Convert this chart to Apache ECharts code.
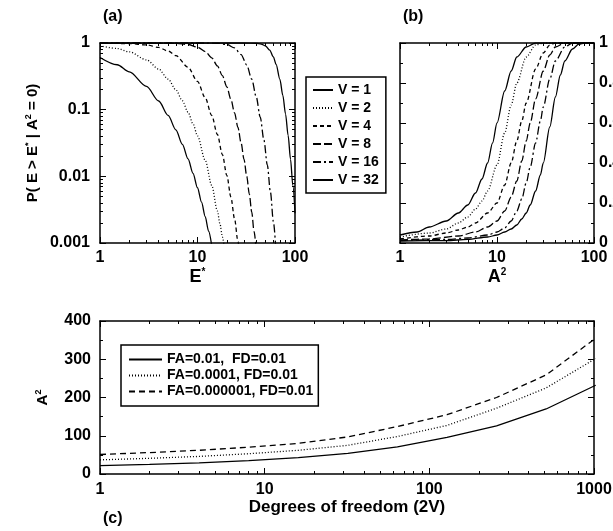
<!DOCTYPE html>
<html>
<head>
<meta charset="UTF-8">
<title>P(E > E*) / detection curves</title>
<script src="https://cdn.jsdelivr.net/npm/echarts@6/dist/echarts.min.js"></script>
</head>
<body style="margin:0">
<div id="main" style="width:613px;height:531px;"></div>
<script type="text/javascript">
// ---- data ----
var vNames = ['V = 1', 'V = 2', 'V = 4', 'V = 8', 'V = 16', 'V = 32'];

// (a) P(E > E* | A^2 = 0) against E*
var pa_v1 = [[1,0.607],[1.5,0.472],[2,0.368],[3,0.223],[4,0.135],[5,0.082],[6,0.0498],[7,0.0302],[8,0.0183],[9,0.0111],[10,0.00674],[11,0.00409],[12,0.00248],[13,0.0015],[14,0.00091]];
var pa_v2 = [[1,0.91],[1.5,0.827],[2,0.736],[3,0.558],[4,0.406],[5,0.287],[6,0.199],[7,0.136],[8,0.0916],[9,0.0611],[10,0.0404],[12,0.0174],[14,0.0073],[16,0.00302],[17,0.00193],[18,0.00123],[19,0.00078]];
var pa_v4 = [[1,0.998],[2,0.981],[3,0.934],[4,0.857],[5,0.758],[6,0.647],[8,0.433],[10,0.265],[12,0.151],[14,0.0818],[16,0.0424],[18,0.0212],[20,0.0103],[22,0.0049],[24,0.0023],[26,0.00105],[27,0.0007]];
var pa_v8 = [[1,1],[4,0.9989],[6,0.988],[8,0.949],[10,0.867],[12,0.744],[14,0.599],[16,0.453],[18,0.324],[20,0.22],[22,0.143],[24,0.0895],[26,0.054],[28,0.0316],[30,0.018],[32,0.01],[34,0.0054],[36,0.0029],[38,0.0015],[40,0.00078]];
var pa_v16 = [[1,1],[10,0.9999],[12,0.9995],[16,0.992],[20,0.951],[24,0.844],[28,0.669],[32,0.467],[36,0.287],[40,0.157],[44,0.077],[48,0.035],[52,0.0148],[56,0.0058],[60,0.0021],[64,0.0007]];
var pa_v32 = [[1,1],[30,0.9999],[40,0.992],[45,0.965],[50,0.9],[55,0.781],[60,0.618],[64,0.477],[70,0.285],[75,0.164],[80,0.086],[85,0.041],[90,0.018],[95,0.0073],[100,0.0028]];

// (b) probability against A^2
var pb_v1 = [[1,0.04],[1.5,0.055],[2,0.08],[3,0.11],[4,0.15],[5,0.19],[6,0.25],[7,0.32],[8,0.4],[9,0.5],[10,0.6],[12,0.76],[14,0.86],[16,0.93],[20,0.98],[25,1],[100,1]];
var pb_v2 = [[1,0.03],[2,0.05],[3,0.07],[4,0.1],[5,0.13],[6,0.17],[7,0.21],[8,0.26],[10,0.39],[12,0.55],[14,0.69],[16,0.8],[20,0.93],[25,0.99],[30,1],[100,1]];
var pb_v4 = [[1,0.02],[2,0.035],[3,0.05],[4,0.065],[5,0.08],[6,0.1],[8,0.15],[10,0.2],[12,0.29],[14,0.4],[16,0.51],[18,0.61],[20,0.7],[25,0.87],[30,0.95],[35,0.99],[40,1],[100,1]];
var pb_v8 = [[1,0.015],[2,0.02],[4,0.035],[6,0.055],[8,0.08],[10,0.11],[12,0.16],[14,0.23],[16,0.31],[18,0.41],[20,0.51],[22,0.6],[25,0.72],[30,0.86],[35,0.94],[40,0.98],[50,1],[100,1]];
var pb_v16 = [[1,0.012],[3,0.018],[5,0.025],[8,0.04],[10,0.055],[12,0.075],[14,0.11],[16,0.16],[18,0.22],[20,0.3],[22,0.38],[25,0.5],[28,0.61],[30,0.68],[35,0.82],[40,0.91],[50,0.98],[60,1],[100,1]];
var pb_v32 = [[1,0.01],[3,0.012],[5,0.018],[8,0.03],[10,0.04],[12,0.055],[14,0.07],[16,0.09],[18,0.12],[20,0.15],[22,0.19],[25,0.26],[28,0.34],[30,0.4],[35,0.58],[40,0.73],[45,0.84],[50,0.91],[60,0.97],[70,0.995],[80,1],[100,1]];

// (c) A^2 against degrees of freedom
var dof = [1, 2, 4, 8, 16, 32, 64, 128, 256, 512, 1024];
var cFA001 = [22, 25, 29, 35, 43, 54, 71, 96, 126, 170, 232];
var cFA00001 = [37, 41, 46, 53, 62, 75, 98, 127, 172, 225, 302];
var cFA0000001 = [51, 56, 62, 70, 80, 97, 124, 155, 200, 259, 355];
var cNames = ['FA=0.01,  FD=0.01', 'FA=0.0001, FD=0.01', 'FA=0.000001, FD=0.01'];

// ---- styles ----
var FONT = 'Liberation Sans';
var vDash = ['solid', [1, 2], [4, 3], [8, 3], [8, 3, 2, 3], 'solid'];
var cDash = ['solid', [1, 2], [6, 4]];

function plain(v) {
    // no thousands separator, no float noise
    return String(Math.round(v * 1000) / 1000);
}
function lbl(show, margin) {
    return { show: show, color: '#000', fontFamily: FONT, fontWeight: 'bold', fontSize: 16, margin: margin, formatter: plain };
}
function frameAxis(extra) {
    var ax = {
        axisLine: { show: true, onZero: false, lineStyle: { color: '#000', width: 1.5 } },
        axisTick: { show: true, inside: true, length: 6, lineStyle: { color: '#000', width: 1 } },
        minorTick: { show: true, length: 3, splitNumber: extra.minorSplit, lineStyle: { color: '#000', width: 1 } },
        splitLine: { show: false },
        axisLabel: lbl(false, 8)
    };
    for (var k in extra) {
        if (k !== 'minorSplit') ax[k] = extra[k];
    }
    return ax;
}
var richSup = {
    t: { color: '#000', fontFamily: FONT, fontWeight: 'bold', fontSize: 18, lineHeight: 20 },
    s: { color: '#000', fontFamily: FONT, fontWeight: 'bold', fontSize: 10, verticalAlign: 'top', lineHeight: 20 },
    u: { color: '#000', fontFamily: FONT, fontWeight: 'bold', fontSize: 15, lineHeight: 18 },
    w: { color: '#000', fontFamily: FONT, fontWeight: 'bold', fontSize: 9, verticalAlign: 'top', lineHeight: 18 }
};

var xAxes = [
    frameAxis({ gridIndex: 0, position: 'bottom', type: 'log', min: 1, max: 100, minorSplit: 9,
        axisLabel: lbl(true, 7), name: '{t|E}{s|*}', nameLocation: 'middle', nameGap: 18,
        nameTextStyle: { rich: richSup } }),
    frameAxis({ gridIndex: 0, position: 'top', type: 'log', min: 1, max: 100, minorSplit: 9 }),
    frameAxis({ gridIndex: 1, position: 'bottom', type: 'log', min: 1, max: 100, minorSplit: 9,
        axisLabel: lbl(true, 7), name: '{t|A}{s|2}', nameLocation: 'middle', nameGap: 18,
        nameTextStyle: { rich: richSup } }),
    frameAxis({ gridIndex: 1, position: 'top', type: 'log', min: 1, max: 100, minorSplit: 9 }),
    frameAxis({ gridIndex: 2, position: 'bottom', type: 'log', min: 1, max: 1000, minorSplit: 9,
        axisLabel: lbl(true, 8), name: 'Degrees of freedom (2V)', nameLocation: 'middle', nameGap: 22,
        nameTextStyle: { color: '#000', fontFamily: FONT, fontWeight: 'bold', fontSize: 17 } }),
    frameAxis({ gridIndex: 2, position: 'top', type: 'log', min: 1, max: 1000, minorSplit: 9 })
];

var yAxes = [
    frameAxis({ gridIndex: 0, position: 'left', type: 'log', min: 0.001, max: 1, minorSplit: 9,
        axisLabel: lbl(true, 10), name: '{u|P( E > E}{w|*}{u| | A}{w|2}{u| = 0)}', nameLocation: 'middle',
        nameGap: 58, nameTextStyle: { rich: richSup } }),
    frameAxis({ gridIndex: 0, position: 'right', type: 'log', min: 0.001, max: 1, minorSplit: 9 }),
    frameAxis({ gridIndex: 1, position: 'left', type: 'value', min: 0, max: 1, interval: 0.2, minorSplit: 2 }),
    frameAxis({ gridIndex: 1, position: 'right', type: 'value', min: 0, max: 1, interval: 0.2, minorSplit: 2,
        axisLabel: lbl(true, 5) }),
    frameAxis({ gridIndex: 2, position: 'left', type: 'value', min: 0, max: 400, interval: 100, minorSplit: 2,
        axisLabel: lbl(true, 9), name: '{u|A}{w|2}', nameLocation: 'middle', nameGap: 48,
        nameTextStyle: { rich: richSup } }),
    frameAxis({ gridIndex: 2, position: 'right', type: 'value', min: 0, max: 400, interval: 100, minorSplit: 2 })
];

var aData = [pa_v1, pa_v2, pa_v4, pa_v8, pa_v16, pa_v32];
var bData = [pb_v1, pb_v2, pb_v4, pb_v8, pb_v16, pb_v32];
var cData = [cFA001, cFA00001, cFA0000001];

var series = [];
for (var i = 0; i < vNames.length; i++) {
    series.push({
        name: vNames[i], type: 'line', xAxisIndex: 0, yAxisIndex: 0, data: aData[i],
        symbol: 'none', smooth: 0.3, smoothMonotone: 'x', clip: true,
        lineStyle: { color: '#000', width: 1.3, type: vDash[i] }, itemStyle: { color: '#000' }
    });
}
for (var i = 0; i < vNames.length; i++) {
    series.push({
        name: vNames[i], type: 'line', xAxisIndex: 2, yAxisIndex: 2, data: bData[i],
        symbol: 'none', smooth: 0.3, smoothMonotone: 'x', clip: true,
        lineStyle: { color: '#000', width: 1.3, type: vDash[i] }, itemStyle: { color: '#000' }
    });
}
for (var i = 0; i < cNames.length; i++) {
    var pts = [];
    for (var j = 0; j < dof.length; j++) pts.push([dof[j], cData[i][j]]);
    series.push({
        name: cNames[i], type: 'line', xAxisIndex: 4, yAxisIndex: 4, data: pts,
        symbol: 'none', clip: true,
        lineStyle: { color: '#000', width: 1.3, type: cDash[i] }, itemStyle: { color: '#000' }
    });
}

var legTextV = { color: '#000', fontFamily: FONT, fontWeight: 'bold', fontSize: 14, lineHeight: 14 };
var legTextC = { color: '#000', fontFamily: FONT, fontWeight: 'bold', fontSize: 14, lineHeight: 15 };
// hide the legend symbol, keep only the line sample
var noSymbol = { color: 'rgba(0,0,0,0)', borderColor: 'rgba(0,0,0,0)', borderWidth: 0 };

var myChart = echarts.init(document.getElementById('main'), null, { renderer: 'canvas' });
var option = {
    backgroundColor: '#fff',
    animation: false,
    title: [
        { text: '(a)', left: 98, top: 4, textStyle: { color: '#000', fontFamily: FONT, fontWeight: 'bold', fontSize: 16 } },
        { text: '(b)', left: 398, top: 4, textStyle: { color: '#000', fontFamily: FONT, fontWeight: 'bold', fontSize: 16 } },
        { text: '(c)', left: 98, top: 506, textStyle: { color: '#000', fontFamily: FONT, fontWeight: 'bold', fontSize: 16 } }
    ],
    grid: [
        { left: 100, top: 43, width: 195, height: 200, outerBoundsMode: 'none' },
        { left: 400, top: 43, width: 194, height: 200, outerBoundsMode: 'none' },
        { left: 100, top: 321, width: 494, height: 153, outerBoundsMode: 'none' }
    ],
    legend: [
        { data: vNames, orient: 'vertical', left: 306, top: 77,
          padding: [6, 7, 6, 6], itemGap: 4, itemWidth: 20, itemHeight: 10,
          itemStyle: noSymbol,
          borderColor: '#000', borderWidth: 1.5, backgroundColor: '#fff',
          textStyle: legTextV, selectedMode: false },
        { data: cNames, orient: 'vertical', left: 121, top: 345,
          padding: [7, 5, 7, 7], itemGap: 1, itemWidth: 33, itemHeight: 10,
          itemStyle: noSymbol,
          borderColor: '#000', borderWidth: 1.5, backgroundColor: '#fff',
          textStyle: legTextC, selectedMode: false }
    ],
    xAxis: xAxes,
    yAxis: yAxes,
    series: series
};
myChart.setOption(option);
</script>
</body>
</html>
